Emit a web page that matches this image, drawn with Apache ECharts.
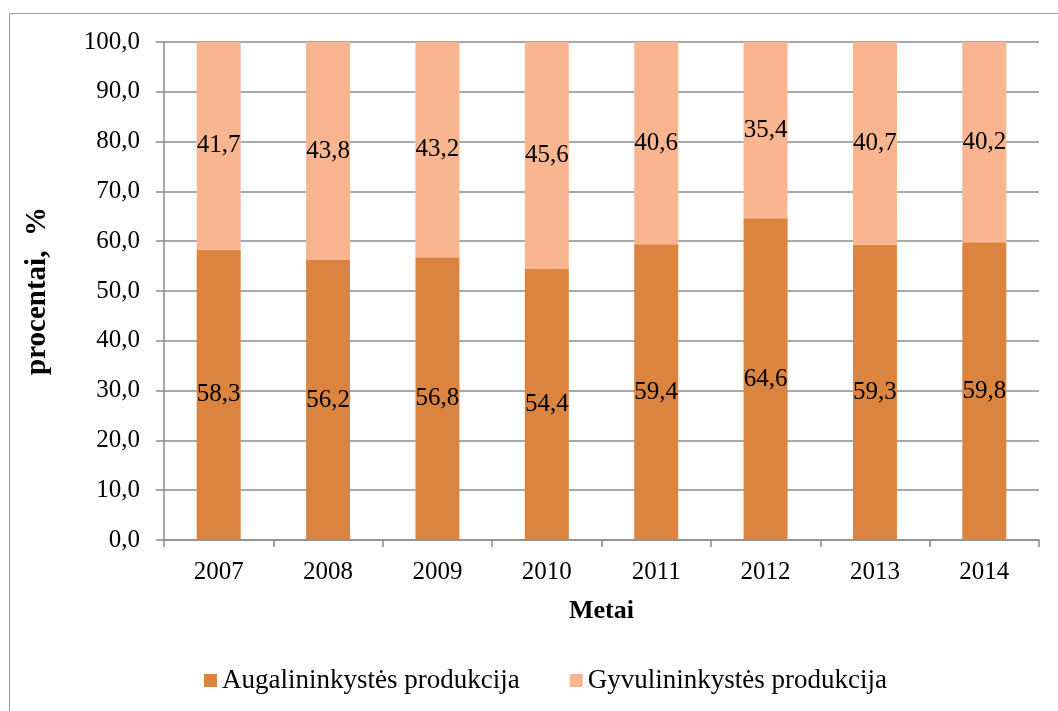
<!DOCTYPE html>
<html><head><meta charset="utf-8">
<script src="https://cdn.jsdelivr.net/npm/echarts@6/dist/echarts.min.js"></script>
<style>html,body{margin:0;padding:0;background:#fff}#c{width:1058px;height:711px}</style>
</head><body><div id="c"></div>
<script>
const years = ['2007','2008','2009','2010','2011','2012','2013','2014'];
const augalininkyste = [58.3, 56.2, 56.8, 54.4, 59.4, 64.6, 59.3, 59.8];
const gyvulininkyste = [41.7, 43.8, 43.2, 45.6, 40.6, 35.4, 40.7, 40.2];
const seriesNames = ['Augalininkystės produkcija', 'Gyvulininkystės produkcija'];
const FONT = '"Liberation Serif", "Times New Roman", serif';
const fmt = v => v.toFixed(1).replace('.', ',');
const chart = echarts.init(document.getElementById('c'));
const lbl = {show:true, position:'inside', color:'#000', fontFamily:FONT, fontSize:25,
  formatter: p => fmt(p.value)};
chart.setOption({
  animation:false,
  textStyle:{fontFamily:FONT},
  graphic:[{type:'rect', shape:{x:9.5,y:13.5,width:1060,height:710}, style:{fill:'none', stroke:'#9a9a9a', lineWidth:1}, silent:true}],
  grid:{left:164, right:19, top:42, bottom:171, containLabel:false},
  xAxis:{type:'category', data:years,
    name:'Metai', nameLocation:'middle', nameGap:58,
    nameTextStyle:{fontFamily:FONT, fontSize:26, fontWeight:'bold', color:'#000'},
    axisLine:{lineStyle:{color:'#8c8c8c', width:1.5}},
    axisTick:{show:true, length:7, lineStyle:{color:'#8c8c8c', width:1.5}},
    axisLabel:{fontFamily:FONT, fontSize:25, color:'#000', margin:20}},
  yAxis:{type:'value', min:0, max:100, interval:10,
    name:'procentai,  %', nameLocation:'middle', nameGap:112, nameRotate:90,
    nameTextStyle:{fontFamily:FONT, fontSize:29, fontWeight:'bold', color:'#000'},
    axisLine:{show:true, lineStyle:{color:'#8c8c8c', width:1.5}},
    axisTick:{show:true, length:8, lineStyle:{color:'#8c8c8c', width:1.5}},
    splitLine:{lineStyle:{color:'#8c8c8c', width:1.5}},
    axisLabel:{fontFamily:FONT, fontSize:25, color:'#000', margin:24, formatter: v => fmt(v)}},
  legend:{top:662, left:199, itemWidth:13, itemHeight:13, itemGap:50, icon:'rect',
    textStyle:{fontFamily:FONT, fontSize:27, color:'#000'}, data:seriesNames},
  series:[
    {name:seriesNames[0], type:'bar', stack:'a', data:augalininkyste, barWidth:44,
      itemStyle:{color:'#DA843F'}, label:lbl},
    {name:seriesNames[1], type:'bar', stack:'a', data:gyvulininkyste, barWidth:44,
      itemStyle:{color:'#F9B590'}, label:lbl}
  ]
});
</script></body></html>
